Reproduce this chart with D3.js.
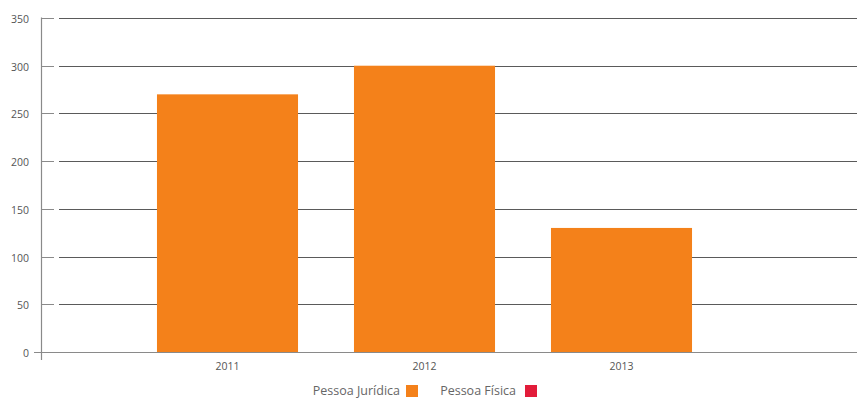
<!DOCTYPE html>
<html>
<head>
<meta charset="utf-8">
<script src="https://cdn.jsdelivr.net/npm/d3@7"></script>
<style>
  html, body { margin: 0; padding: 0; background: #fff; }
  svg { display: block; font-family: "Open Sans", "DejaVu Sans", sans-serif; }
</style>
</head>
<body>
<svg id="chart" width="857" height="399"></svg>
<script>
// Data
const years = ["2011", "2012", "2013"];
const pessoaJuridica = [270, 300, 130];
const yTicks = [0, 50, 100, 150, 200, 250, 300, 350];
const legendLabels = ["Pessoa Jurídica", "Pessoa Física"];
const legendColors = ["#F4811A", "#E21C3A"];

const svg = d3.select("#chart");
const W = 857, H = 399;
const axisX = 41.5;

const y = d3.scaleLinear().domain([0, 350]).range([352, 18]);
const x = d3.scaleBand().domain(years).range([129, 720])
  .paddingInner(0.284).paddingOuter(0.142);

// Gridlines (with a gap next to the axis)
const grid = svg.append("g");
yTicks.filter(d => d > 0).forEach(t => {
  const yy = Math.round(y(t)) + 0.5;
  grid.append("line").attr("x1", axisX).attr("x2", 54).attr("y1", yy).attr("y2", yy)
    .attr("stroke", "#8a8a8a").attr("stroke-width", 1);
  grid.append("line").attr("x1", 59).attr("x2", W).attr("y1", yy).attr("y2", yy)
    .attr("stroke", "#5a5a5a").attr("stroke-width", 1);
});

// Bars
svg.append("g").selectAll("rect").data(years).join("rect")
  .attr("x", d => x(d))
  .attr("width", x.bandwidth())
  .attr("y", (d, i) => y(pessoaJuridica[i]))
  .attr("height", (d, i) => y(0) - y(pessoaJuridica[i]))
  .attr("fill", legendColors[0]);

// Baseline and vertical axis
const base = Math.round(y(0)) + 0.5;
svg.append("line").attr("x1", 34).attr("x2", W).attr("y1", base).attr("y2", base)
  .attr("stroke", "#8a8a8a").attr("stroke-width", 1.2);
svg.append("line").attr("x1", axisX).attr("x2", axisX).attr("y1", 17.5).attr("y2", 360)
  .attr("stroke", "#8a8a8a").attr("stroke-width", 1.2);

// Y tick labels
svg.append("g").selectAll("text").data(yTicks).join("text")
  .attr("x", 29).attr("y", d => y(d) + 5)
  .attr("text-anchor", "end")
  .attr("font-size", 10.5).attr("fill", "#555")
  .text(d => d);

// X labels
const xAxis = d3.axisBottom(x).tickSize(0).tickPadding(0);
const gx = svg.append("g").attr("transform", `translate(0, ${base})`).call(xAxis);
gx.select(".domain").remove();
gx.selectAll("text").attr("dy", 0).attr("y", 17)
  .attr("font-size", 10.5).attr("fill", "#555")
  .attr("font-family", "\"Open Sans\", sans-serif");

// Legend
const legend = svg.append("g");
const legendItems = [
  { textEnd: 400, sq: 406 },
  { textEnd: 516, sq: 525 }
];
legendLabels.forEach((lab, i) => {
  legend.append("text").attr("x", legendItems[i].textEnd).attr("y", 395)
    .attr("text-anchor", "end").attr("font-size", 12.5).attr("fill", "#666").text(lab);
  legend.append("rect").attr("x", legendItems[i].sq).attr("y", 385)
    .attr("width", 12).attr("height", 12).attr("fill", legendColors[i]);
});
</script>
</body>
</html>
